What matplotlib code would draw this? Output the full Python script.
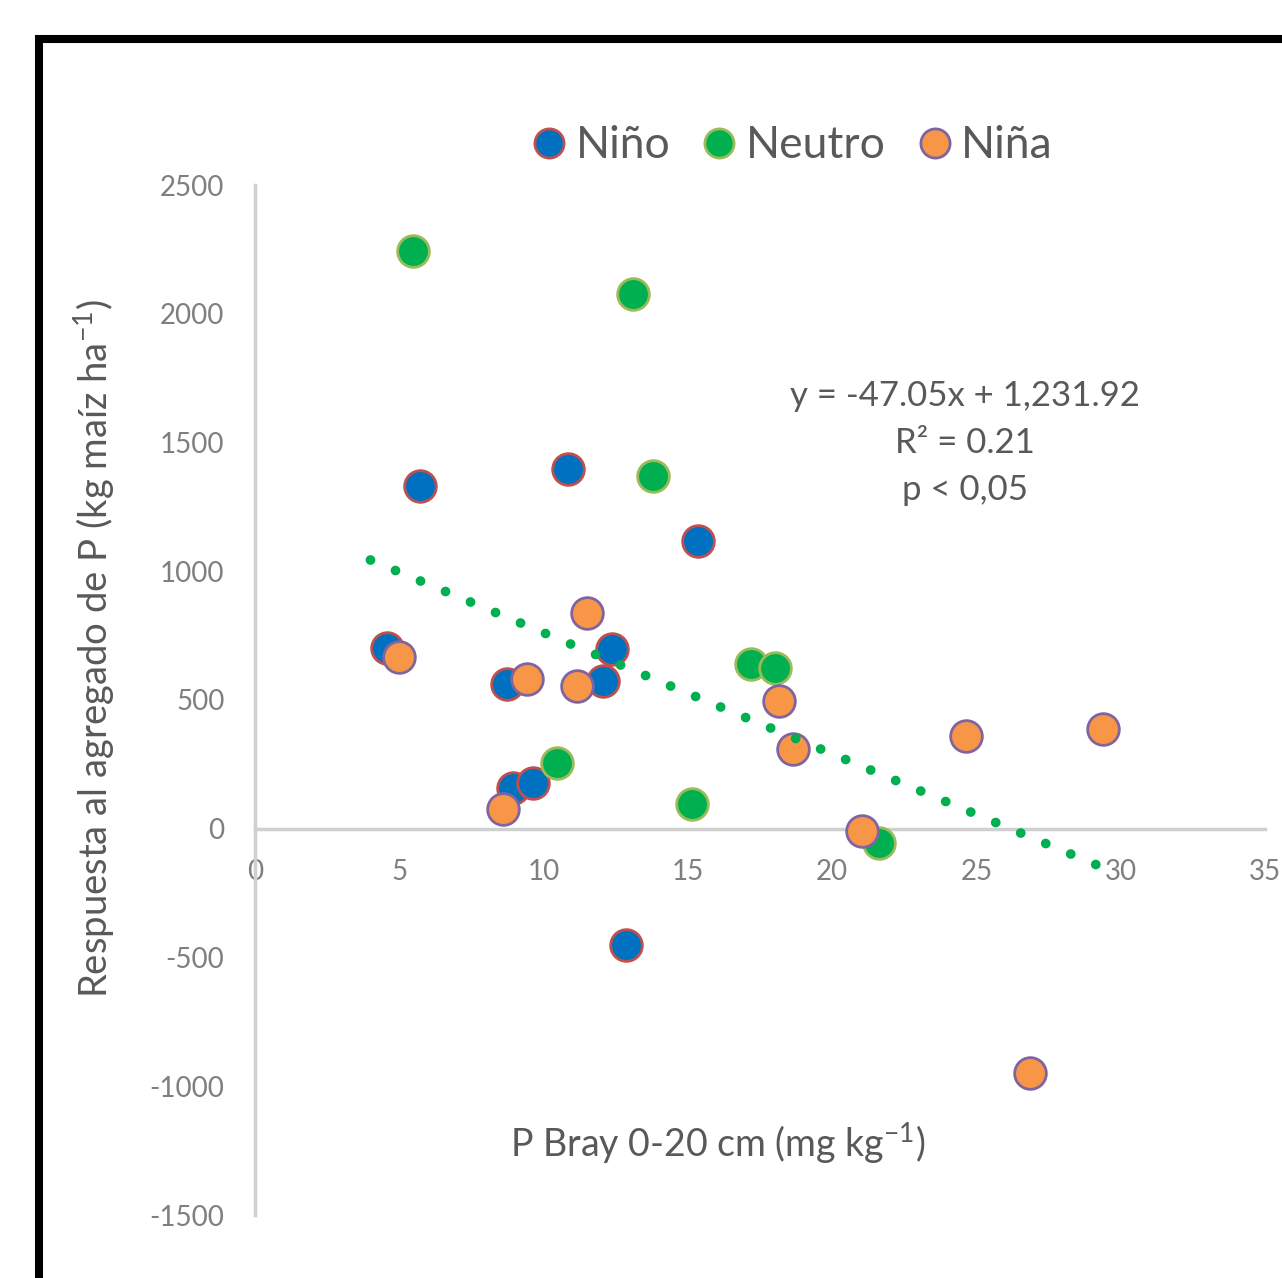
import matplotlib
matplotlib.use('Agg')
import matplotlib.pyplot as plt
from matplotlib.patches import Rectangle
from matplotlib.lines import Line2D
import numpy as np

plt.rcParams['font.family'] = ['Lato', 'DejaVu Sans']
plt.rcParams['mathtext.fontset'] = 'custom'
plt.rcParams['mathtext.rm'] = 'Lato'
plt.rcParams['mathtext.it'] = 'Lato:italic'
plt.rcParams['axes.unicode_minus'] = False

# data
nino_x = [5.72, 10.85, 15.35, 4.57, 8.73, 12.37, 12.06, 8.94, 9.63, 12.86]
nino_y = [1332, 1398, 1118, 703, 563, 699, 575, 159, 179, -450]

neutro_x = [5.47, 13.10, 13.79, 17.19, 18.02, 10.46, 15.14, 21.62]
neutro_y = [2245, 2078, 1371, 641, 625, 256, 97, -54]

nina_x = [4.99, 9.42, 11.16, 11.50, 8.59, 18.16, 18.64, 24.64, 29.38, 21.03, 26.85]
nina_y = [668, 583, 555, 839, 78, 497, 311, 361, 388, -8, -948]

slope = -47.05
intercept = 1231.92
trend_x = [4.0, 29.6]

x_ticks = [0, 5, 10, 15, 20, 25, 30, 35]
y_ticks = [-1500, -1000, -500, 0, 500, 1000, 1500, 2000, 2500]

series = [
    ('Niño', nino_x, nino_y, '#0070C0', '#C0504D'),
    ('Neutro', neutro_x, neutro_y, '#00B050', '#9BBB59'),
    ('Niña', nina_x, nina_y, '#F79646', '#8064A2'),
]

txt = '#595959'
grey = '#D0D0D0'

fig = plt.figure(figsize=(12.82, 12.78), dpi=100)
ax = fig.add_axes([255/1282, 1-1215/1278, 1010/1282, 1030/1278])

for name, xs, ys, fc, ec in series:
    ax.scatter(xs, ys, s=520, c=fc, edgecolors=ec, linewidths=2.0, zorder=3)

tx = np.array(trend_x)
ax.plot(tx, slope*tx + intercept, color='#00B050', lw=7,
        linestyle=(0, (0.01, 2.78)), dash_capstyle='round', zorder=4)

ax.set_xlim(0, 35)
ax.set_ylim(-1500, 2500)
ax.set_xticks(x_ticks)
ax.set_yticks(y_ticks)
ax.tick_params(length=0, labelsize=20, labelcolor='#7F7F7F')
ax.tick_params(axis='x', pad=22)
ax.tick_params(axis='y', pad=22)

ax.spines['top'].set_visible(False)
ax.spines['right'].set_visible(False)
ax.spines['bottom'].set_position(('data', 0))
for s in ['left', 'bottom']:
    ax.spines[s].set_color(grey)
    ax.spines[s].set_linewidth(2.5)

ax.set_ylabel(r'Respuesta al agregado de P (kg maíz ha$^{-1}$)', fontsize=27.5, color=txt)
ax.yaxis.set_label_coords(-0.137, 0.55)
ax.text(0.458, 0.07, r'P Bray 0-20 cm (mg kg$^{-1}$)', transform=ax.transAxes,
        ha='center', va='center', fontsize=27, color=txt)

ax.text(24.6, 1499, 'y = -47.05x + 1,231.92\nR² = 0.21\np < 0,05',
        ha='center', va='center', fontsize=25, color=txt, linespacing=1.58)

handles = [Line2D([], [], ls='none', marker='o', markersize=21, markerfacecolor=fc,
                  markeredgecolor=ec, markeredgewidth=2.0) for _, _, _, fc, ec in series]
fig.legend(handles, [s[0] for s in series], loc='center', bbox_to_anchor=(0.616, 1-146/1278),
           ncol=3, frameon=False, fontsize=32, labelcolor=txt, handletextpad=0.1,
           columnspacing=0.6, handlelength=1.0)

# black frame around the chart, cut off at right and bottom
fig.patches.append(Rectangle((39/1282, -0.1), 1.2, 1.1-39/1278, transform=fig.transFigure,
                             fill=False, edgecolor='black', linewidth=5.8, zorder=10))

fig.savefig('out.png', dpi=100)
